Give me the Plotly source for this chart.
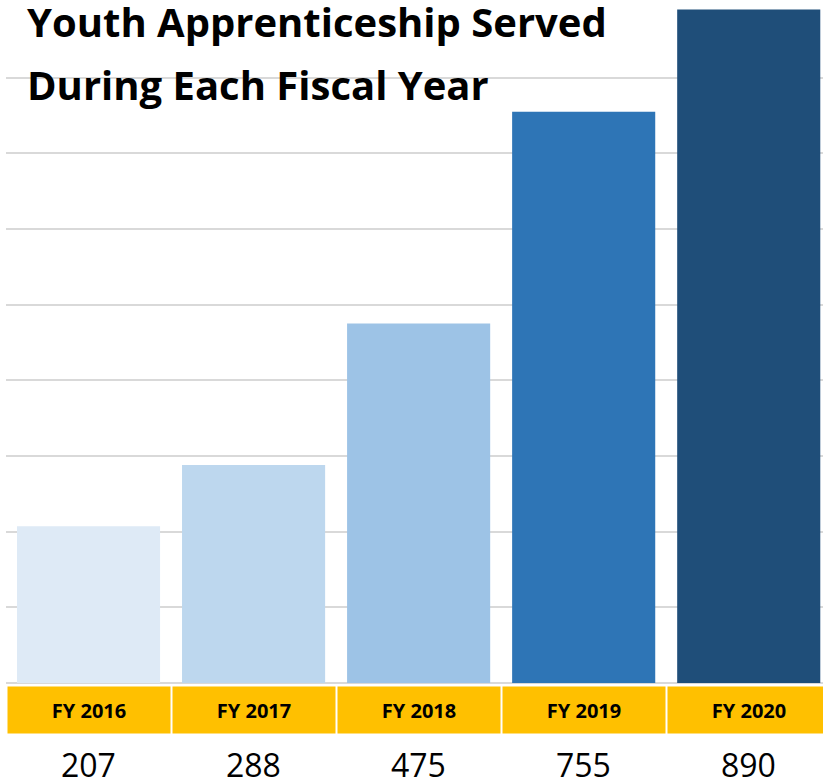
import plotly.graph_objects as go

categories = ["FY 2016", "FY 2017", "FY 2018", "FY 2019", "FY 2020"]
served = [207, 288, 475, 755, 890]
bar_colors = ["#DEEAF6", "#BDD7EE", "#9DC3E6", "#2E75B6", "#1F4E79"]
title_lines = ["Youth Apprenticeship Served", "During Each Fiscal Year"]

fig = go.Figure()
fig.add_trace(go.Bar(
    x=categories, y=served, marker=dict(color=bar_colors, line=dict(width=0)),
    hoverinfo="x+y", showlegend=False,
))

annotations = []
# title lines (overlaid on the plot)
annotations.append(dict(text="<b>" + title_lines[0] + "</b>", xref="paper", yref="paper",
                        x=0, y=1, xanchor="left", yanchor="middle", xshift=19, yshift=-19,
                        showarrow=False, font=dict(family="Open Sans", size=40, color="#000000")))
annotations.append(dict(text="<b>" + title_lines[1] + "</b>", xref="paper", yref="paper",
                        x=0, y=1, xanchor="left", yanchor="middle", xshift=19, yshift=-82,
                        showarrow=False, font=dict(family="Open Sans", size=40, color="#000000")))

for cat, val in zip(categories, served):
    annotations.append(dict(text="<b>" + cat + "</b>", x=cat, xref="x", y=0, yref="paper",
                            yanchor="top", yshift=-3, showarrow=False, bgcolor="#FFC000",
                            width=162, height=46, borderpad=0, align="center", valign="middle",
                            font=dict(family="Open Sans", size=20, color="#000000")))
    annotations.append(dict(text=str(val), x=cat, xref="x", y=0, yref="paper",
                            yanchor="middle", yshift=-81, showarrow=False,
                            font=dict(family="Open Sans", size=32, color="#000000")))

fig.update_layout(
    width=823, height=782, autosize=False,
    margin=dict(l=6, r=0, t=2, b=99),
    paper_bgcolor="white", plot_bgcolor="white",
    bargap=0.133,
    xaxis=dict(range=[-0.5, 4.45], showticklabels=False, showgrid=False, zeroline=False,
               showline=False, ticks=""),
    yaxis=dict(range=[0, 900], dtick=100, showticklabels=False, showgrid=True,
               gridcolor="#D9D9D9", gridwidth=2, zeroline=True, zerolinecolor="#D9D9D9",
               zerolinewidth=2, showline=False, ticks=""),
    annotations=annotations,
)

fig.write_html("out.html", config={"displayModeBar": False},
               post_script="document.body.style.margin='0px';document.body.style.overflow='hidden';")
